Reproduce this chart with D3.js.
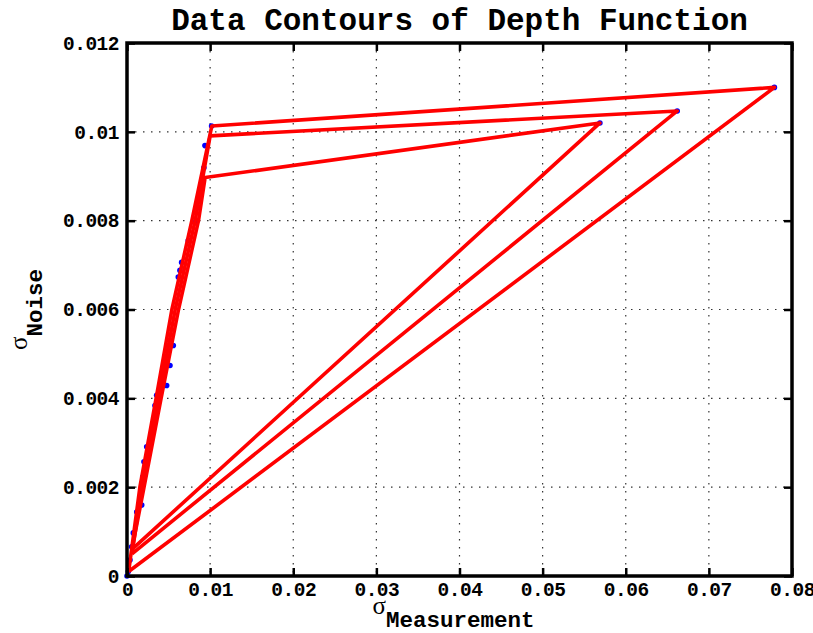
<!DOCTYPE html>
<html>
<head>
<meta charset="utf-8">
<script src="https://cdn.jsdelivr.net/npm/d3@7"></script>
<style>
  html, body { margin: 0; padding: 0; background: #fff; }
  svg { display: block; }
  .mono { font-family: "Liberation Mono", "DejaVu Sans Mono", monospace; font-weight: bold; }
</style>
</head>
<body>
<svg id="chart" width="813" height="633"></svg>
<script>
// Axis ticks
const xTicks = [0, 0.01, 0.02, 0.03, 0.04, 0.05, 0.06, 0.07, 0.08];
const yTicks = [0, 0.002, 0.004, 0.006, 0.008, 0.01, 0.012];
const xTickLabels = ["0", "0.01", "0.02", "0.03", "0.04", "0.05", "0.06", "0.07", "0.08"];
const yTickLabels = ["0", "0.002", "0.004", "0.006", "0.008", "0.01", "0.012"];

// Sample points (sigma_measurement, sigma_noise)
const pointX = [0, 0.00016, 0.00036, 0.00056, 0.00076, 0.00117, 0.00177, 0.00189, 0.00204, 0.00237,
  0.00337, 0.00357, 0.00477, 0.00517, 0.00557, 0.00617, 0.00637, 0.00657, 0.00737, 0.00817,
  0.00862, 0.00877, 0.00898, 0.00925, 0.00938, 0.01018, 0.05689, 0.06619, 0.07788];
const pointY = [0, 0.0001, 0.00036, 0.00066, 0.00097, 0.00144, 0.0016, 0.00223, 0.00257, 0.00291,
  0.00384, 0.00407, 0.00429, 0.00474, 0.00519, 0.00673, 0.00688, 0.00706, 0.00755, 0.00796,
  0.00829, 0.00852, 0.00879, 0.00919, 0.00969, 0.01013, 0.0102, 0.01047, 0.0110];

// Depth contours (closed polygons)
const contour1X = [0.0002, 0.00155, 0.0035, 0.0054, 0.0078, 0.0102, 0.0779];
const contour1Y = [0.0001, 0.0020, 0.0040, 0.0060, 0.0080, 0.01013, 0.0110];
const contour2X = [0.0006, 0.0018, 0.0038, 0.0058, 0.0082, 0.0100, 0.0662];
const contour2Y = [0.0005, 0.0020, 0.0040, 0.0060, 0.0080, 0.00991, 0.01047];
const contour3X = [0.0006, 0.00205, 0.0041, 0.0062, 0.0086, 0.0094, 0.0569];
const contour3Y = [0.0006, 0.0020, 0.0040, 0.0060, 0.0080, 0.00897, 0.0102];

const plot = { left: 127, right: 792, top: 43, bottom: 576 };

const svg = d3.select("#chart");
const x = d3.scaleLinear().domain([0, 0.08]).range([plot.left, plot.right]);
const y = d3.scaleLinear().domain([0, 0.012]).range([plot.bottom, plot.top]);

// Grid lines (dotted)
const grid = svg.append("g");
grid.selectAll("line.gx").data(xTicks.slice(1, -1)).join("line")
  .attr("x1", d => x(d)).attr("x2", d => x(d))
  .attr("y1", plot.top).attr("y2", plot.bottom)
  .attr("stroke", "#333").attr("stroke-width", 1.2).attr("stroke-dasharray", "1.5,6.5");
grid.selectAll("line.gy").data(yTicks.slice(1, -1)).join("line")
  .attr("y1", d => y(d)).attr("y2", d => y(d))
  .attr("x1", plot.left).attr("x2", plot.right)
  .attr("stroke", "#333").attr("stroke-width", 1.2).attr("stroke-dasharray", "1.5,6.5");

// Data points
svg.append("g").selectAll("circle").data(pointX.map((d, i) => [d, pointY[i]])).join("circle")
  .attr("cx", d => x(d[0])).attr("cy", d => y(d[1])).attr("r", 2.8)
  .attr("fill", "#0000ff");

// Contours
const line = d3.line().x(d => x(d[0])).y(d => y(d[1]));
const contours = [
  contour1X.map((d, i) => [d, contour1Y[i]]),
  contour2X.map((d, i) => [d, contour2Y[i]]),
  contour3X.map((d, i) => [d, contour3Y[i]])
];
svg.append("g").selectAll("path").data(contours).join("path")
  .attr("d", d => line(d.concat([d[0]])))
  .attr("fill", "none").attr("stroke", "#ff0000").attr("stroke-width", 3.6)
  .attr("stroke-linejoin", "round");

// Axes: ticks drawn inward on all four sides
const tickLen = 8;
const axB = d3.axisBottom(x).tickValues(xTicks).tickSize(-tickLen).tickPadding(6)
  .tickFormat((d, i) => xTickLabels[i]);
const axT = d3.axisTop(x).tickValues(xTicks).tickSize(-tickLen).tickFormat("");
const axL = d3.axisLeft(y).tickValues(yTicks).tickSize(-tickLen).tickPadding(8)
  .tickFormat((d, i) => yTickLabels[i]);
const axR = d3.axisRight(y).tickValues(yTicks).tickSize(-tickLen).tickFormat("");

function styleAxis(g) {
  g.select(".domain").remove();
  g.selectAll(".tick line").attr("stroke", "#000").attr("stroke-width", 2.5);
  g.selectAll("text").attr("class", "mono").attr("font-size", 19.5)
    .attr("letter-spacing", -0.5).attr("fill", "#000");
}
svg.append("g").attr("transform", `translate(0,${plot.bottom})`).call(axB).call(styleAxis);
svg.append("g").attr("transform", `translate(0,${plot.top})`).call(axT).call(styleAxis);
svg.append("g").attr("transform", `translate(${plot.left},0)`).call(axL).call(styleAxis);
svg.append("g").attr("transform", `translate(${plot.right},0)`).call(axR).call(styleAxis);

// Frame
svg.append("rect")
  .attr("x", plot.left).attr("y", plot.top)
  .attr("width", plot.right - plot.left).attr("height", plot.bottom - plot.top)
  .attr("fill", "none").attr("stroke", "#000").attr("stroke-width", 3.5);

// Title
svg.append("text").attr("class", "mono")
  .attr("x", (plot.left + plot.right) / 2).attr("y", 30)
  .attr("text-anchor", "middle").attr("font-size", 31)
  .text("Data Contours of Depth Function");

// X label: sigma with subscript
const xl = svg.append("text").attr("x", (plot.left + plot.right) / 2 - 6).attr("y", 614)
  .attr("text-anchor", "middle");
xl.append("tspan").attr("font-family", "Liberation Serif, serif").attr("font-size", 25).text("σ");
xl.append("tspan").attr("class", "mono").attr("font-size", 22.5).attr("dy", 13).text("Measurement");

// Y label: sigma with subscript, rotated
const yl = svg.append("text")
  .attr("transform", `translate(27,${(plot.top + plot.bottom) / 2}) rotate(-90)`)
  .attr("text-anchor", "middle");
yl.append("tspan").attr("font-family", "Liberation Serif, serif").attr("font-size", 25).text("σ");
yl.append("tspan").attr("class", "mono").attr("font-size", 22.5).attr("dy", 15).text("Noise");
</script>
</body>
</html>
